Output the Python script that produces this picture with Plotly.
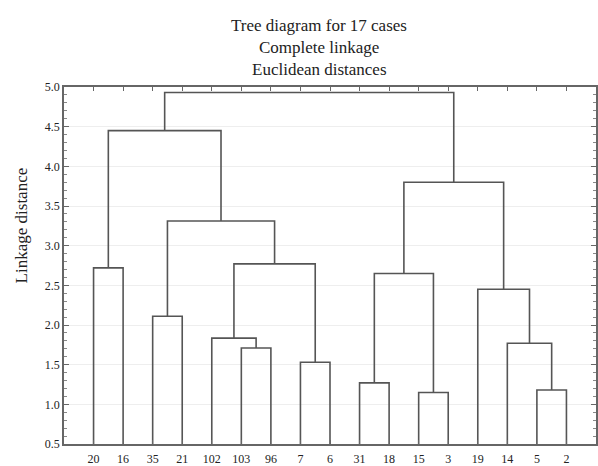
import plotly.graph_objects as go

# ---- data ----
leaf_labels = ["20", "16", "35", "21", "102", "103", "96", "7", "6",
               "31", "18", "15", "3", "19", "14", "5", "2"]
# merges: cluster ids 0..16 are leaves, new clusters numbered from 17 upwards
merge_left = [5, 4, 7, 18, 2, 21, 0, 23, 9, 11, 25, 15, 14, 13, 27, 24]
merge_right = [6, 17, 8, 19, 3, 20, 1, 22, 10, 12, 26, 16, 28, 29, 30, 31]
merge_height = [1.71, 1.835, 1.53, 2.77, 2.11, 3.31, 2.72, 4.45,
                1.27, 1.15, 2.65, 1.18, 1.77, 2.45, 3.80, 4.93]
y_ticks = [0.5, 1.0, 1.5, 2.0, 2.5, 3.0, 3.5, 4.0, 4.5, 5.0]

# ---- build dendrogram path ----
n = len(leaf_labels)
pos = {i: (i + 1, 0.5) for i in range(n)}  # (x center, height)
xs, ys = [], []
for k, (a, b, h) in enumerate(zip(merge_left, merge_right, merge_height)):
    xa, ya = pos[a]
    xb, yb = pos[b]
    xs += [xa, xa, xb, xb, None]
    ys += [ya, h, h, yb, None]
    pos[n + k] = ((xa + xb) / 2, h)

fig = go.Figure()
fig.add_trace(go.Scatter(x=xs, y=ys, mode="lines",
                         line=dict(color="#555555", width=1.6),
                         hoverinfo="skip", showlegend=False))

serif = "Liberation Serif, Times New Roman, serif"
W, H = 598, 466
mt, mb, ml, mr = 87, 20, 64, 0
ph = H - mt - mb
pw = W - ml - mr

fig.update_layout(
    width=W, height=H,
    margin=dict(l=ml, r=mr, t=mt, b=mb),
    paper_bgcolor="white", plot_bgcolor="white",
    font=dict(family=serif, color="#333333", size=12),
    showlegend=False,
)

titles = ["Tree diagram for 17 cases", "Complete linkage", "Euclidean distances"]
title_y = [25, 47, 69]
for t, yp in zip(titles, title_y):
    fig.add_annotation(text=t, xref="paper", yref="paper",
                       x=(320 - ml) / pw, y=1 + (mt - yp) / ph,
                       xanchor="center", yanchor="middle", showarrow=False,
                       font=dict(family=serif, size=17, color="#222222"))

# y-axis title
fig.add_annotation(text="Linkage distance", xref="paper", yref="paper",
                   x=(21 - ml) / pw, y=(H - mb - 226) / ph,
                   xanchor="center", yanchor="middle", showarrow=False,
                   textangle=-90,
                   font=dict(family=serif, size=17, color="#222222"))

fig.update_xaxes(
    range=[0, n + 1],
    tickmode="array", tickvals=list(range(1, n + 1)), ticktext=leaf_labels,
    ticks="inside", ticklen=4, tickcolor="#666666",
    showline=True, linecolor="#666666", linewidth=1.5, mirror="ticks",
    showgrid=False, zeroline=False, ticklabelstandoff=3,
    tickfont=dict(family=serif, size=12, color="#222222"),
)
fig.update_yaxes(
    range=[0.5, 5.0],
    tickmode="array", tickvals=y_ticks, ticktext=[f"{v:.1f}" for v in y_ticks],
    ticks="inside", ticklen=5, tickcolor="#666666",
    minor=dict(ticks="inside", ticklen=3, dtick=0.1, tick0=0.5, tickcolor="#888888", showgrid=False),
    showline=True, linecolor="#666666", linewidth=1.5, mirror="ticks",
    showgrid=True, gridcolor="#eeeeee", gridwidth=1, zeroline=False,
    tickfont=dict(family=serif, size=12, color="#222222"),
)

fig.write_html("out.html", config={"displayModeBar": False},
               post_script="document.body.style.margin='0';document.body.style.overflow='hidden';")
